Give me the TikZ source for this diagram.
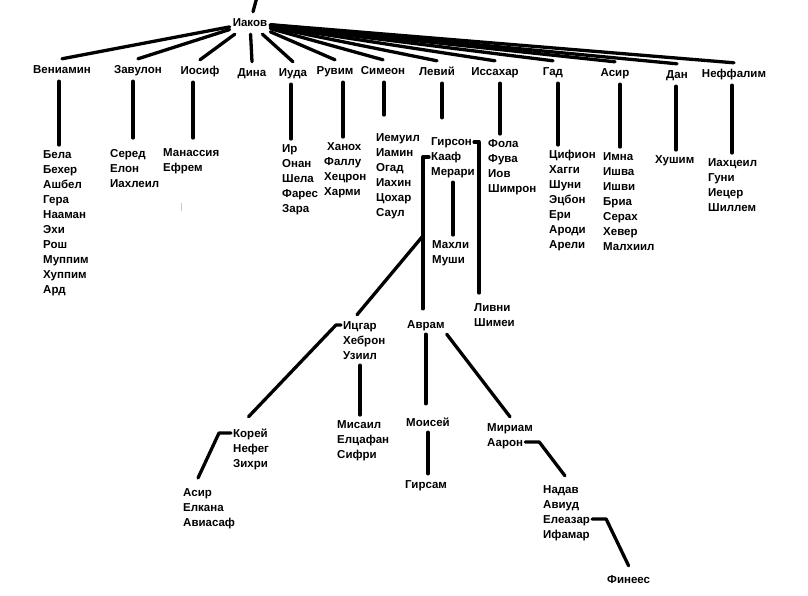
\documentclass[tikz,border=0pt]{standalone}
\usepackage{fontspec}
\setmainfont{Liberation Sans}
\newcommand{\namefont}{\bfseries\fontsize{11.5}{15}\selectfont}

\begin{document}
\begin{tikzpicture}[x=1pt,y=-1pt,
        branch/.style={line width=3.3pt, line cap=round, line join=round},
        parent/.style={font=\namefont, text height=8pt, text depth=0pt, inner xsep=3pt, inner ysep=7pt},
        person/.style={font=\namefont, text height=8pt, text depth=0pt, inner xsep=2pt, inner ysep=6pt, anchor=west},
        kids/.style={font=\namefont, align=left, anchor=north west, inner xsep=0pt, inner ysep=5pt},
        ]
        \useasboundingbox (0,0) rectangle (808,596);
        \node[parent] (jacob) at (250,23) {Иаков};
        \coordinate (up) at (257,-3);
        \draw[branch] (jacob) -- (up);
        % sons of Jacob
        \node[parent] (benjamin) at (62,70) {Вениамин};
        \node[parent] (zebulun) at (138,70) {Завулон};
        \node[parent] (joseph) at (200,71) {Иосиф};
        \node[parent] (dinah) at (252,73) {Дина};
        \node[parent] (judah) at (293,73) {Иуда};
        \node[parent] (reuben) at (335,71) {Рувим};
        \node[parent] (simeon) at (383,71) {Симеон};
        \node[parent] (levi) at (437,72) {Левий};
        \node[parent] (issachar) at (495,72) {Иссахар};
        \node[parent] (gad) at (553,72) {Гад};
        \node[parent] (asher) at (615,73) {Асир};
        \node[parent] (dan) at (677,75) {Дан};
        \node[parent] (naphtali) at (734,74) {Неффалим};
        \draw[branch] (jacob) -- (benjamin.north);
        \draw[branch] (jacob) -- (zebulun.north);
        \draw[branch] (jacob) -- (joseph.north);
        \draw[branch] (jacob) -- (dinah.north);
        \draw[branch] (jacob) -- (judah.north);
        \draw[branch] (jacob) -- (reuben.north);
        \draw[branch] (jacob) -- (simeon.north);
        \draw[branch] (jacob) -- (levi.north);
        \draw[branch] (jacob) -- (issachar.north);
        \draw[branch] (jacob) -- (gad.north);
        \draw[branch] (jacob) -- (asher.north);
        \draw[branch] (jacob) -- (dan.north);
        \draw[branch] (jacob) -- (naphtali.north);
        % grandsons
        \node[kids] (benjaminsons) at (43,145) {Бела\\Бехер\\Ашбел\\Гера\\Нааман\\Эхи\\Рош\\Муппим\\Хуппим\\Ард};
        \node[kids] (zebulunsons) at (110,144) {Серед\\Елон\\Иахлеил};
        \node[kids] (josephsons) at (163,143) {Манассия\\Ефрем};
        \node[kids] (judahsons) at (282,139) {Ир\\Онан\\Шела\\Фарес\\Зара};
        \node[kids] (reubensons) at (324,137) {\hspace*{3pt}Ханох\\Фаллу\\Хецрон\\Харми};
        \node[kids] (simeonsons) at (376,128) {Иемуил\\Иамин\\Огад\\Иахин\\Цохар\\Саул};
        \node[person] (gershon) at (429,142) {Гирсон};
        \node[person] (kohath) at (429,157) {Кааф};
        \node[person] (merari) at (429,172) {Мерари};
        \node[kids] (issacharsons) at (488,134) {Фола\\Фува\\Иов\\Шимрон};
        \node[kids] (gadsons) at (549,145) {Цифион\\Хагги\\Шуни\\Эцбон\\Ери\\Ароди\\Арели};
        \node[kids] (ashersons) at (603,147) {Имна\\Ишва\\Ишви\\Бриа\\Серах\\Хевер\\Малхиил};
        \node[kids] (dansons) at (655,150) {Хушим};
        \node[kids] (naphtalisons) at (708,153) {Иахцеил\\Гуни\\Иецер\\Шиллем};
        \draw[branch] ([xshift=-3pt]benjamin.south) -- ([xshift=-3pt]benjamin.south |- benjaminsons.north);
        \draw[branch] ([xshift=-5pt]zebulun.south) -- ([xshift=-5pt,yshift=6pt]zebulun.south |- zebulunsons.north);
        \draw[branch] ([xshift=-7pt]joseph.south) -- ([xshift=-7pt,yshift=5pt]joseph.south |- josephsons.north);
        \draw[branch] ([xshift=-2pt]judah.south) -- ([xshift=-2pt]judah.south |- judahsons.north);
        \draw[branch] ([xshift=8pt]reuben.south) -- ([xshift=8pt]reuben.south |- reubensons.north);
        \draw[branch] ([xshift=1pt]simeon.south) -- ([xshift=1pt,yshift=13pt]simeon.south |- simeonsons.north);
        \draw[branch] ([xshift=5pt]levi.south) -- ([xshift=5pt,yshift=14pt]levi.south |- gershon.north);
        \draw[branch] ([xshift=5pt]issachar.south) -- ([xshift=5pt]issachar.south |- issacharsons.north);
        \draw[branch] ([xshift=5pt]gad.south) -- ([xshift=5pt]gad.south |- gadsons.north);
        \draw[branch] ([xshift=5pt]asher.south) -- ([xshift=5pt]asher.south |- ashersons.north);
        \draw[branch] ([xshift=-1pt]dan.south) -- ([xshift=-1pt]dan.south |- dansons.north);
        \draw[branch] ([xshift=-2pt]naphtali.south) -- ([xshift=-2pt]naphtali.south |- naphtalisons.north);
        \draw[orange!50, line width=0.8pt] (181,203) -- (181,211);
        % Levi
        \node[kids] (mahli) at (432,235) {Махли\\Муши};
        \node[kids] (libni) at (474,298) {Ливни\\Шимеи};
        \node[person] (amram) at (405,324) {Аврам};
        \node[person] (izhar) at (341,325) {Ицгар};
        \node[person] (hebron) at (341,340) {Хеброн};
        \node[person] (uzziel) at (341,355) {Узиил};
        \draw[branch] (gershon.east) -| ([xshift=5pt,yshift=5pt]libni.north west);
        \draw[branch] (kohath.west) -| ([xshift=-3pt,yshift=5pt]amram.north);
        \draw[branch] (merari.south) -- (merari.south |- mahli.north);
        \coordinate (fork) at (422,237);
        \draw[branch] (fork) -- ([xshift=-3pt]izhar.north);
        % Izhar
        \node[person] (korah) at (231,433) {Корей};
        \node[person] (nepheg) at (231,448) {Нефег};
        \node[person] (zichri) at (231,463) {Зихри};
        \node[kids] (korahsons) at (183,483) {Асир\\Елкана\\Авиасаф};
        \node[kids] (mishaelsons) at (337,415) {Мисаил\\Елцафан\\Сифри};
        \draw[branch] (izhar.west) -- ([xshift=-5pt]izhar.west) -- ([xshift=-2pt,yshift=6pt]korah.north);
        \draw[branch] (korah.west) -- ([xshift=-12pt]korah.west) -- ([xshift=15pt,yshift=5pt]korahsons.north west);
        \draw[branch] (uzziel.south) -- (uzziel.south |- mishaelsons.north);
        % Amram
        \node[person] (moses) at (404,422) {Моисей};
        \node[person] (gershom) at (403,484) {Гирсам};
        \node[person] (miriam) at (485,427) {Мириам};
        \node[person] (aaron) at (485,442) {Аарон};
        \draw[branch] (amram.south) -- ([yshift=8pt]amram.south |- moses.north);
        \draw[branch] (moses.south) -- (moses.south |- gershom.north);
        \draw[branch] (amram.south east) -- (miriam.north);
        % Aaron
        \node[person] (nadab) at (541,489) {Надав};
        \node[person] (abihu) at (541,504) {Авиуд};
        \node[person] (eleazar) at (541,519) {Елеазар};
        \node[person] (ithamar) at (541,534) {Ифамар};
        \node[person] (phinehas) at (605,579) {Финеес};
        \draw[branch] (aaron.east) -- ([xshift=14pt]aaron.east) -- ([xshift=4pt,yshift=3pt]nadab.north);
        \draw[branch] (eleazar.east) -- ([xshift=14pt]eleazar.east) -- ([yshift=3pt]phinehas.north);
\end{tikzpicture}
\end{document}
